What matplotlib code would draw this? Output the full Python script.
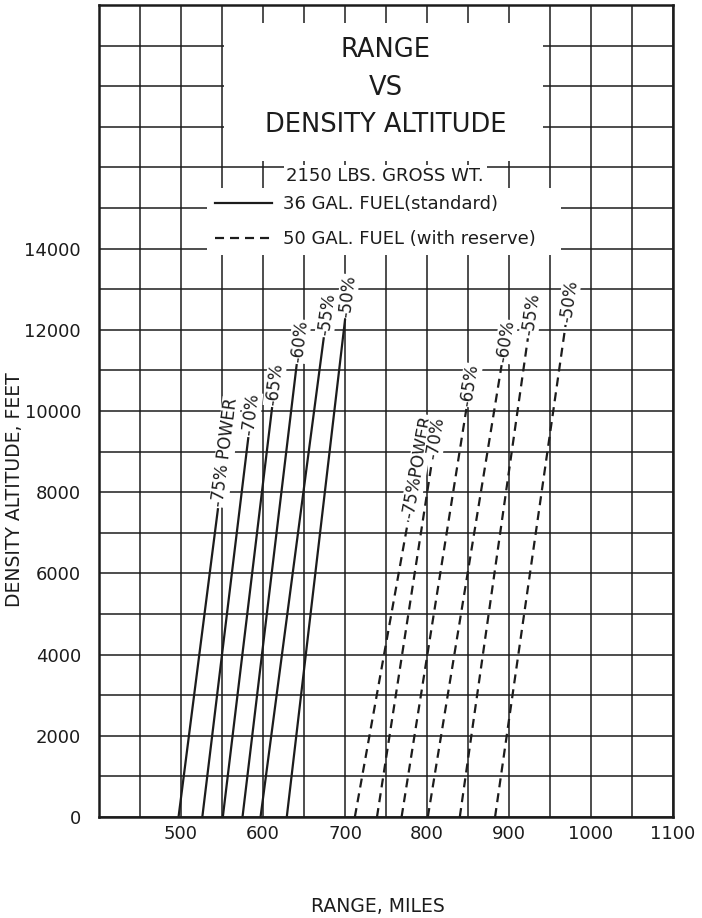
import numpy as np
import matplotlib
matplotlib.use("Agg")
import matplotlib.pyplot as plt
from matplotlib.patches import Rectangle
from matplotlib.lines import Line2D

# ---- values ----
power = ["75%", "70%", "65%", "60%", "55%", "50%"]
# 36 gal. fuel (standard): range at sea level and at the top of each line
std_range_sl  = [497, 526, 551, 575, 597, 629]
std_range_top = [545, 582, 611, 641, 674, 700]
std_alt_top   = [7580, 9330, 10070, 11130, 11790, 12240]
# 50 gal. fuel (with reserve)
res_range_sl  = [712, 739, 769, 801, 840, 883]
res_range_top = [777, 806, 848, 891, 923, 969]
res_alt_top   = [7300, 8750, 10050, 11130, 11790, 12120]

x_ticks = [500, 600, 700, 800, 900, 1000, 1100]
y_ticks = [0, 2000, 4000, 6000, 8000, 10000, 12000, 14000]

INK = "#1c1c1c"
DASH = (0, (6.5, 4.3))
plt.rcParams["font.family"] = "DejaVu Sans"
plt.rcParams["lines.scale_dashes"] = False

fig = plt.figure(figsize=(7.02, 9.18), dpi=100)
ax = fig.add_axes([99/702, 101/918, 574/702, 812/918])
ax.set_xlim(400, 1100); ax.set_ylim(0, 20000)
ax.set_xticks(x_ticks); ax.set_yticks(y_ticks)
ax.set_xticks(np.arange(400, 1101, 50), minor=True)
ax.set_yticks(np.arange(0, 20001, 1000), minor=True)
ax.set_axisbelow(True)
ax.grid(which="both", color=INK, lw=1.1)
ax.tick_params(which="both", length=0, colors=INK)
ax.tick_params(axis="x", pad=6, labelsize=13)
ax.tick_params(axis="y", pad=13, labelsize=13)
for s in ax.spines.values():
    s.set_linewidth(1.8); s.set_color(INK)

# white areas of the title block / legend (grid interrupted there)
ax.add_patch(Rectangle((552, 16160), 390, 3390, fc="white", ec="none", zorder=1))
ax.add_patch(Rectangle((532, 13850), 431, 1650, fc="white", ec="none", zorder=1))

def label(x0, x1, y1, text):
    # text runs on along the line, just past its top end
    p0 = ax.transData.transform((x0, 0)); p1 = ax.transData.transform((x1, y1))
    ang = np.degrees(np.arctan2(p1[1] - p0[1], p1[0] - p0[0]))
    ux, uy = np.cos(np.radians(ang)), np.sin(np.radians(ang))
    ax.annotate(text, (x1, y1), xytext=(2*ux, 2*uy), textcoords="offset points",
                rotation=ang, rotation_mode="anchor", ha="left", va="center",
                fontsize=12, color=INK, zorder=2.6,
                bbox=dict(fc="white", ec="none", pad=0.5))

for i, p in enumerate(power):
    ax.plot([std_range_sl[i], std_range_top[i]], [0, std_alt_top[i]], color=INK, lw=1.6, zorder=3)
    ax.plot([res_range_sl[i], res_range_top[i]], [0, res_alt_top[i]], color=INK, lw=1.6, ls=DASH, zorder=3)
    label(std_range_sl[i], std_range_top[i], std_alt_top[i], "-" + (p + " POWER" if i == 0 else p))
    label(res_range_sl[i], res_range_top[i], res_alt_top[i], "-" + (p + "POWER" if i == 0 else p))

# title block
for txt, yy in [("RANGE", 0.9445), ("VS", 0.8975), ("DENSITY ALTITUDE", 0.8525)]:
    ax.text(0.499, yy, txt, transform=ax.transAxes, ha="center", va="center",
            fontsize=18.5, color=INK, zorder=4)
ax.text(0.4986, 0.789, "2150 LBS. GROSS WT.", transform=ax.transAxes, ha="center", va="center",
        fontsize=13, color=INK, zorder=4, bbox=dict(fc="white", ec="none", pad=2))

handles = [Line2D([], [], color=INK, lw=1.6), Line2D([], [], color=INK, lw=1.6, ls=DASH)]
leg = ax.legend(handles, ["36 GAL. FUEL(standard)", "50 GAL. FUEL (with reserve)"],
                loc="center left", bbox_to_anchor=(0.2023, 0.7335), frameon=False, fontsize=13,
                handlelength=3.14, handletextpad=0.64, labelspacing=0.95, borderpad=0, borderaxespad=0)
for t in leg.get_texts():
    t.set_color(INK)
leg.set_zorder(4)

fig.text(378/702, 1 - 906/918, "RANGE, MILES", ha="center", va="center", fontsize=13.5, color=INK)
fig.text(15/702, 1 - 490/918, "DENSITY ALTITUDE, FEET", rotation=90, ha="center", va="center", fontsize=13.5, color=INK)

fig.savefig("out.png", dpi=100)
